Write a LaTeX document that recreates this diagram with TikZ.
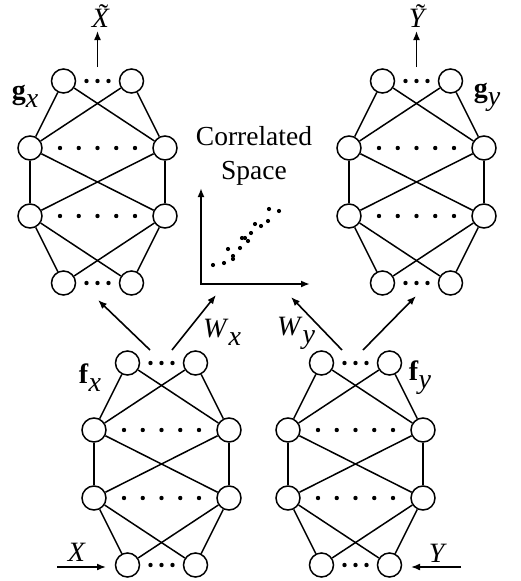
\documentclass[tikz,border=0pt]{standalone}
\usepackage{fontspec}
\setmainfont{Liberation Serif}
\usetikzlibrary{arrows.meta}
\newcommand\lsub[1]{\raisebox{-0.28em}{\textit{#1}}}
\newcommand\tld[1]{{\ooalign{\textit{#1}\cr\hidewidth\kern0.18em\raisebox{0.14em}{\char"02DC}\hidewidth\cr}}}
\newcommand\mynet[3]{%
 \begin{scope}[shift={(#2,#3)}]
 \node[neu] (#1t1) at (-34,0) {};
 \node[neu] (#1t2) at (34,0) {};
 \node[neu] (#1a1) at (-67.5,67) {};
 \node[neu] (#1a2) at (67.5,67) {};
 \node[neu] (#1b1) at (-67.5,135) {};
 \node[neu] (#1b2) at (67.5,135) {};
 \node[neu] (#1c1) at (-34,202) {};
 \node[neu] (#1c2) at (34,202) {};
 \foreach \u/\v in {t1/a1,t1/a2,t2/a1,t2/a2,a1/b1,a1/b2,a2/b1,a2/b2,b1/c1,b1/c2,b2/c1,b2/c2}
   \draw[edge] (#1\u) -- (#1\v);
 \foreach \dd in {-11,0,11} {\fill (\dd,0) circle[radius=2.2pt]; \fill (\dd,202) circle[radius=2.2pt];}
 \foreach \dd in {-37.5,-18.75,0,18.75,37.5} {\fill (\dd,67) circle[radius=2.2pt]; \fill (\dd,135) circle[radius=2.2pt];}
 \end{scope}}
\begin{document}
\begin{tikzpicture}[x=1pt,y=-1pt,
  neu/.style={circle,draw,line width=1.5pt,minimum size=24pt,inner sep=0pt},
  edge/.style={line width=1.5pt},
  arr/.style={line width=1.6pt,-{Latex[length=9pt,width=7pt]}},
  axis/.style={line width=2.4pt},
  lab/.style={font=\fontsize{28}{30}\selectfont,inner sep=0pt}]
\useasboundingbox (0,0) rectangle (520,581);
\fill[white] (0,0) rectangle (520,581);

\mynet{gx}{97.5}{81}
\mynet{gy}{416.5}{81}
\mynet{fx}{161.5}{363}
\mynet{fy}{355.5}{363}

% outputs
\coordinate (gxs) at (97.5,67);
\coordinate (gxe) at (97.5,31);
\coordinate (gys) at (416.5,67);
\coordinate (gye) at (416.5,31);
\draw[arr] (gxs) -- (gxe);
\draw[arr] (gys) -- (gye);
\node[lab] (lxt) at (101,18) {\tld{X}};
\node[lab] (lyt) at (418,18) {\tld{Y}};

% inputs
\coordinate (xs) at (57,567);
\coordinate (xe) at (106,567);
\coordinate (ys) at (461,567);
\coordinate (ye) at (411,567);
\draw[arr] (xs) -- (xe);
\draw[arr] (ys) -- (ye);
\node[lab] (lx) at (77,552) {\textit{X}};
\node[lab] (ly) at (438,553) {\textit{Y}};

% network labels
\node[lab] (lgx) at (25,96) {\textbf{g}\lsub{x}};
\node[lab] (lgy) at (487,97) {\textbf{g}\lsub{y}};
\node[lab] (lfx) at (90,378) {\textbf{f}\lsub{x}};
\node[lab] (lfy) at (420,378) {\textbf{f}\lsub{y}};

% f to g / space arrows
\coordinate (fxa) at (150,350);
\coordinate (fxb) at (172,350);
\coordinate (fya) at (342,350);
\coordinate (fyb) at (363,350);
\coordinate (tgx) at (98,300);
\coordinate (tsx) at (216,295);
\coordinate (tsy) at (291,297);
\coordinate (tgy) at (416,296);
\draw[arr] (fxa) -- (tgx);
\draw[arr] (fxb) -- (tsx);
\draw[arr] (fya) -- (tsy);
\draw[arr] (fyb) -- (tgy);
\node[lab] (lwx) at (222,332) {\textit{W}\lsub{x}};
\node[lab] (lwy) at (296,333) {\textit{W}\lsub{y}};

% correlated space
\node[font=\fontsize{27.5}{34}\selectfont,align=center,inner sep=0pt] (cs) at (254,156) {Correlated\\Space};
\coordinate (org) at (201,284);
\coordinate (ytip) at (201,188);
\coordinate (xtip) at (310,284);
\draw[axis,{Latex[length=9pt,width=7pt]}-{Latex[length=9pt,width=7pt]}] (ytip) -- (org) -- (xtip);
\foreach \px/\py in {213/265,224/263,228/249,233/256,233/259,240/248,242/238,245/238,248/241,251/233,255/224,261/226,268/221,269/209,279/211}
  \fill (\px,\py) circle[radius=2.1pt];
\end{tikzpicture}
\end{document}
